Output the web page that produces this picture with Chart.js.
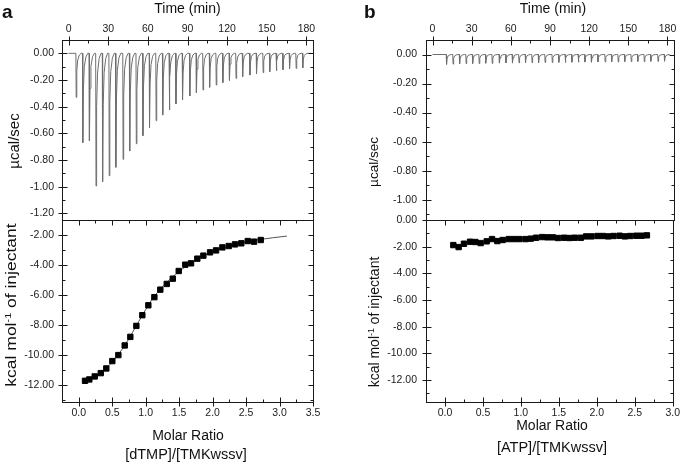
<!DOCTYPE html>
<html>
<head>
<meta charset="utf-8">
<script src="https://cdn.jsdelivr.net/npm/chart.js@4.4.1/dist/chart.umd.min.js"></script>
<style>
  body { margin: 0; background: #fff; }
  #wrap { position: relative; width: 685px; height: 464px; font-family: "Liberation Sans", Arial, sans-serif; color: #111; }
  canvas { position: absolute; left: 0; top: 0; }
  .lbl { position: absolute; white-space: nowrap; font-size: 14px; line-height: 1; transform: translate(-50%, -50%); }
  .rot { transform: translate(-50%, -50%) rotate(-90deg); }
  .panel { position: absolute; font-weight: bold; font-size: 19px; line-height: 1; }
  .sup { font-size: 0.62em; position: relative; top: -0.55em; }
</style>
</head>
<body>
<div id="wrap">
  <canvas id="rawA" width="685" height="464"></canvas>
  <canvas id="fitA" width="685" height="464"></canvas>
  <canvas id="rawB" width="685" height="464"></canvas>
  <canvas id="fitB" width="685" height="464"></canvas>

  <div class="panel" style="left:2px;top:2px">a</div>
  <div class="panel" style="left:364px;top:2px">b</div>
  <div class="lbl" style="left:187.5px;top:8px">Time (min)</div>
  <div class="lbl" style="left:553px;top:8px">Time (min)</div>
  <div class="lbl rot" style="left:13px;top:141px;font-size:15px">µcal/sec</div>
  <div class="lbl rot" style="left:373.5px;top:162px;font-size:13.5px">µcal/sec</div>
  <div class="lbl" style="left:10.5px;top:305px;transform:translate(-50%,-50%) rotate(-90deg) scaleX(1.25)">kcal mol<span class="sup">-1</span> of injectant</div>
  <div class="lbl rot" style="left:374px;top:322px">kcal mol<span class="sup">-1</span> of injectant</div>
  <div class="lbl" style="left:188px;top:434.5px">Molar Ratio</div>
  <div class="lbl" style="left:186px;top:453.5px;font-size:14.5px">[dTMP]/[TMKwssv]</div>
  <div class="lbl" style="left:552px;top:425px">Molar Ratio</div>
  <div class="lbl" style="left:552px;top:447px;font-size:14.5px">[ATP]/[TMKwssv]</div>
</div>

<script>
// Raw ITC trace: injection times (min) and peak heights (µcal/sec)
const injTimeA = [5.5, 10.5, 15.5, 20.5, 25.5, 30.5, 35.5, 41, 46, 51, 56, 61, 66, 71, 76, 81, 86,
    91.5, 96.5, 101.5, 106.5, 111.5, 116.5, 121.5, 126.5, 131.5, 137, 142, 147, 152, 157, 162, 167, 172, 177];
const peakA = [-0.33, -0.67, -0.655, -0.995, -0.963, -0.918, -0.855, -0.795, -0.733, -0.678, -0.618, -0.558,
    -0.505, -0.463, -0.425, -0.38, -0.35, -0.32, -0.295, -0.275, -0.255, -0.238, -0.22, -0.203, -0.188,
    -0.175, -0.163, -0.153, -0.145, -0.138, -0.13, -0.123, -0.115, -0.113, -0.11];
const injTimeB = [10.5, 15.5, 20.5, 25.5, 30.5, 35.5, 40.5, 45.5, 51, 56, 61, 66, 71, 76, 81, 86,
    91.5, 96.5, 101.5, 106.5, 111.5, 116.5, 121.5, 126.5, 132, 137, 142, 147, 152, 157, 162, 167, 172.5, 177.5];
const peakB = [-0.068, -0.066, -0.065, -0.063, -0.062, -0.062, -0.060, -0.061, -0.059, -0.058, -0.059, -0.057,
    -0.057, -0.056, -0.057, -0.055, -0.055, -0.054, -0.055, -0.053, -0.053, -0.052, -0.053, -0.051, -0.051,
    -0.050, -0.051, -0.049, -0.049, -0.048, -0.049, -0.047, -0.047, -0.046];
// one injection peak as seen on the trace: [min after injection, share of peak height]
const peakShape = [[0, 0], [0.25, 1], [0.7, 0.4], [1.4, 0.15], [2.6, 0.04], [4, 0]];
const traceEndA = 183;
const traceEndB = 181;

// Integrated heats (kcal/mol of injectant) vs molar ratio
const ratioA = [0.094, 0.158, 0.239, 0.329, 0.412, 0.502, 0.592, 0.687, 0.771, 0.861, 0.950, 1.040, 1.130,
    1.219, 1.315, 1.405, 1.494, 1.592, 1.678, 1.772, 1.862, 1.962, 2.052, 2.146, 2.241, 2.335, 2.429, 2.525,
    2.619, 2.719];
const heatA = [-11.69, -11.60, -11.40, -11.18, -10.87, -10.38, -9.98, -9.34, -8.77, -8.04, -7.33, -6.67, -6.13,
    -5.63, -5.25, -4.90, -4.39, -3.97, -3.88, -3.57, -3.37, -3.15, -3.02, -2.82, -2.73, -2.62, -2.55, -2.40,
    -2.44, -2.33];
const fitRatioA = [0.09, 0.3, 0.5, 0.7, 0.9, 1.1, 1.3, 1.5, 1.7, 1.9, 2.1, 2.3, 2.5, 2.7, 2.9, 3.11];
const fitHeatA = [-11.72, -11.27, -10.45, -9.25, -7.72, -6.25, -5.22, -4.42, -3.82, -3.32, -2.95, -2.67,
    -2.45, -2.30, -2.18, -2.07];
const ratioB = [0.11, 0.18, 0.25, 0.33, 0.40, 0.47, 0.55, 0.62, 0.69, 0.76, 0.84, 0.91, 0.98, 1.06, 1.13, 1.20,
    1.28, 1.35, 1.42, 1.49, 1.57, 1.64, 1.71, 1.79, 1.86, 1.93, 2.01, 2.08, 2.15, 2.22, 2.30, 2.37, 2.44, 2.52,
    2.59, 2.66];
const heatB = [-1.88, -2.03, -1.78, -1.63, -1.65, -1.73, -1.60, -1.43, -1.58, -1.50, -1.43, -1.43, -1.43, -1.43,
    -1.40, -1.33, -1.28, -1.30, -1.30, -1.35, -1.33, -1.35, -1.33, -1.33, -1.23, -1.23, -1.20, -1.20, -1.23,
    -1.20, -1.18, -1.23, -1.20, -1.18, -1.18, -1.15];

// Tick values
const timeTicks = [0, 30, 60, 90, 120, 150, 180];
const timeMinor = [15, 45, 75, 105, 135, 165];
const powerTicksA = [0, -0.2, -0.4, -0.6, -0.8, -1.0, -1.2];
const powerTicksB = [0, -0.2, -0.4, -0.6, -0.8, -1.0];
const powerMinor = [-0.1, -0.3, -0.5, -0.7, -0.9, -1.1];
const heatTicksA = [-2, -4, -6, -8, -10, -12];
const heatMinorA = [-3, -5, -7, -9, -11, -13];
const heatTicksB = [0, -2, -4, -6, -8, -10, -12];
const heatMinorB = [-1, -3, -5, -7, -9, -11, -13];
const ratioTicksA = [0, 0.5, 1.0, 1.5, 2.0, 2.5, 3.0, 3.5];
const ratioMinorA = [0.25, 0.75, 1.25, 1.75, 2.25, 2.75, 3.25];
const ratioTicksB = [0, 0.5, 1.0, 1.5, 2.0, 2.5, 3.0];
const ratioMinorB = [0.25, 0.75, 1.25, 1.75, 2.25, 2.75];

// Build the raw trace points from the injection list
function buildTrace(times, peaks, end) {
    const pts = [{ x: 0, y: 0 }];
    times.forEach((t, i) => {
        peakShape.forEach(s => pts.push({ x: t + s[0], y: peaks[i] * s[1] }));
    });
    pts.push({ x: end, y: 0 });
    return pts;
}

function toPoints(xs, ys) {
    return xs.map((x, i) => ({ x: x, y: ys[i] }));
}

// Frame around the plot with Origin style inward ticks on every side
const frameTicks = {
    id: 'frameTicks',
    afterDraw(chart, args, o) {
        const ctx = chart.ctx;
        const area = chart.chartArea;
        const xs = chart.scales.x, ys = chart.scales.y;
        const L = Math.round(area.left) + 0.5, R = Math.round(area.right) + 0.5;
        const T = Math.round(area.top) + 0.5, B = Math.round(area.bottom) + 0.5;
        const px = v => Math.round(xs.getPixelForValue(v)) + 0.5;
        const py = v => Math.round(ys.getPixelForValue(v)) + 0.5;
        ctx.save();
        ctx.strokeStyle = '#1a1a1a';
        ctx.lineWidth = 1;
        ctx.strokeRect(L, T, R - L, B - T);
        ctx.beginPath();
        o.yMajor.forEach(v => {
            const y = py(v);
            ctx.moveTo(L - 4, y); ctx.lineTo(L + 5, y);
            ctx.moveTo(R - 5, y); ctx.lineTo(R, y);
        });
        o.yMinor.forEach(v => {
            const y = py(v);
            ctx.moveTo(L, y); ctx.lineTo(L + 3, y);
            ctx.moveTo(R - 3, y); ctx.lineTo(R, y);
        });
        o.xMajor.forEach(v => {
            const x = px(v);
            if (o.xSide === 'top') {
                ctx.moveTo(x, T - 4); ctx.lineTo(x, T + 5);
            } else {
                ctx.moveTo(x, T); ctx.lineTo(x, T + 5);
                ctx.moveTo(x, B + 4); ctx.lineTo(x, B - 5);
            }
        });
        o.xMinor.forEach(v => {
            const x = px(v);
            if (o.xSide === 'top') {
                ctx.moveTo(x, T); ctx.lineTo(x, T + 3);
            } else {
                ctx.moveTo(x, T); ctx.lineTo(x, T + 3);
                ctx.moveTo(x, B); ctx.lineTo(x, B - 3);
            }
        });
        ctx.stroke();
        ctx.restore();
    }
};

function axis(position, range, tickValues, digits, size, pad) {
    return {
        type: 'linear',
        position: position,
        min: range[0],
        max: range[1],
        grid: { display: false, drawTicks: false },
        border: { display: false },
        ticks: {
            padding: pad,
            autoSkip: false,
            maxRotation: 0,
            minRotation: 0,
            color: '#1a1a1a',
            font: { family: "'Liberation Sans', Arial, sans-serif", size: 10.5 },
            callback: v => Number(v).toFixed(digits)
        },
        afterBuildTicks: scale => { scale.ticks = tickValues.map(v => ({ value: v })); },
        afterFit: scale => {
            if (position === 'left') scale.width = size; else scale.height = size;
        }
    };
}

function makeChart(id, c) {
    return new Chart(document.getElementById(id), {
        type: 'scatter',
        data: { datasets: c.datasets },
        options: {
            responsive: false,
            animation: false,
            devicePixelRatio: 1,
            events: [],
            layout: { padding: c.padding },
            plugins: {
                legend: { display: false },
                tooltip: { enabled: false },
                frameTicks: { xMajor: c.xTicks, xMinor: c.xMinor, yMajor: c.yTicks, yMinor: c.yMinor, xSide: c.xPos }
            },
            scales: {
                x: axis(c.xPos, c.xRange, c.xTicks, c.xDigits, c.xSize, 5),
                y: axis('left', c.yRange, c.yTicks, 2, c.ySize, c.yPad)
            }
        },
        plugins: [frameTicks]
    });
}

function traceSet(points) {
    return { data: points, showLine: true, borderColor: '#6e6e6e', borderWidth: 1, pointRadius: 0, tension: 0 };
}

function squareSet(points) {
    return { data: points, pointStyle: 'rect', pointRadius: 3.8, pointHoverRadius: 3.8,
        backgroundColor: '#000', borderColor: '#000', borderWidth: 1 };
}

window.onload = function() {
    // panel a, raw heat flow
    makeChart('rawA', {
        datasets: [traceSet(buildTrace(injTimeA, peakA, traceEndA))],
        padding: { left: 0, right: 372, top: 0, bottom: 244 },
        xPos: 'top', xRange: [-5, 185], xTicks: timeTicks, xMinor: timeMinor, xDigits: 0, xSize: 40,
        yRange: [-1.25, 0.1], yTicks: powerTicksA, yMinor: powerMinor, ySize: 62, yPad: 8
    });
    // panel a, integrated heats and fit
    makeChart('fitA', {
        datasets: [
            squareSet(toPoints(ratioA, heatA)),
            Object.assign(traceSet(toPoints(fitRatioA, fitHeatA)), { borderColor: '#555', cubicInterpolationMode: 'monotone' })
        ],
        padding: { left: 0, right: 372, top: 220, bottom: 0 },
        xPos: 'bottom', xRange: [-0.25, 3.5], xTicks: ratioTicksA, xMinor: ratioMinorA, xDigits: 1, xSize: 62,
        yRange: [-13.1, -1.0], yTicks: heatTicksA, yMinor: heatMinorA, ySize: 62, yPad: 8
    });
    // panel b, raw heat flow
    makeChart('rawB', {
        datasets: [traceSet(buildTrace(injTimeB, peakB, traceEndB))],
        padding: { left: 366, right: 11, top: 0, bottom: 244 },
        xPos: 'top', xRange: [-5, 185], xTicks: timeTicks, xMinor: timeMinor, xDigits: 0, xSize: 40,
        yRange: [-1.14, 0.1], yTicks: powerTicksB, yMinor: powerMinor, ySize: 60, yPad: 9
    });
    // panel b, integrated heats
    makeChart('fitB', {
        datasets: [squareSet(toPoints(ratioB, heatB))],
        padding: { left: 366, right: 11, top: 220, bottom: 0 },
        xPos: 'bottom', xRange: [-0.25, 3.0], xTicks: ratioTicksB, xMinor: ratioMinorB, xDigits: 1, xSize: 62,
        yRange: [-13.65, 0], yTicks: heatTicksB, yMinor: heatMinorB, ySize: 60, yPad: 9
    });
};
</script>
</body>
</html>
